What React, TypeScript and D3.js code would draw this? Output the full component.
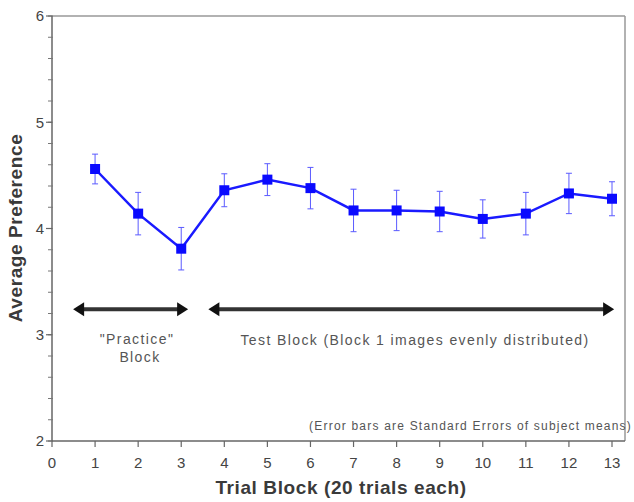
import React from "react";
import * as d3 from "d3";

const blocks = [1, 2, 3, 4, 5, 6, 7, 8, 9, 10, 11, 12, 13];
const meanPreference = [4.56, 4.14, 3.81, 4.36, 4.46, 4.38, 4.17, 4.17, 4.16, 4.09, 4.14, 4.33, 4.28];
const standardError = [0.14, 0.2, 0.2, 0.155, 0.15, 0.195, 0.2, 0.19, 0.19, 0.18, 0.2, 0.19, 0.16];
const xTicks = [0, 1, 2, 3, 4, 5, 6, 7, 8, 9, 10, 11, 12, 13];
const yTicks = [2, 3, 4, 5, 6];
const yMinorTicks = d3.range(2, 6.001, 0.2);
const practiceSpan = [0.49, 3.16];
const testSpan = [3.63, 13.05];
const arrowLevel = 3.24;

const W = 634;
const H = 502;
const left = 52;
const right = 625;
const top = 16;
const bottom = 441;

export default function App() {
  const x = d3.scaleLinear().domain([0, 13]).range([left, 612]);
  const y = d3.scaleLinear().domain([2, 6]).range([bottom, top]);
  const line = d3
    .line<number>()
    .x((_, i) => x(blocks[i]))
    .y((d) => y(d));

  const font = "'Liberation Sans', Arial, sans-serif";
  const textGray = "#555";

  const arrow = (span: number[], key: string) => {
    const x0 = x(span[0]);
    const x1 = x(span[1]);
    const yy = y(arrowLevel);
    const hl = 11;
    const hw = 7;
    return (
      <g key={key}>
        <line x1={x0 + hl - 1} x2={x1 - hl + 1} y1={yy} y2={yy} stroke="#333" strokeWidth={4} />
        <path d={`M${x0},${yy} L${x0 + hl},${yy - hw} L${x0 + hl},${yy + hw} Z`} fill="#111" />
        <path d={`M${x1},${yy} L${x1 - hl},${yy - hw} L${x1 - hl},${yy + hw} Z`} fill="#111" />
      </g>
    );
  };

  return (
    <svg
      width={W}
      height={H}
      style={{ position: "absolute", left: 0, top: 0, background: "#fff" }}
      fontFamily={font}
    >
      {/* frame */}
      <line x1={left} x2={right} y1={top} y2={top} stroke="#999" strokeWidth={1.5} />
      <line x1={right} x2={right} y1={top} y2={bottom} stroke="#999" strokeWidth={1.5} />
      {/* y axis */}
      <line x1={left} x2={left} y1={top} y2={bottom} stroke="#666" strokeWidth={1.5} />
      {yMinorTicks.map((v, i) => (
        <line key={"ym" + i} x1={left - 4} x2={left + 1} y1={y(v)} y2={y(v)} stroke="#777" strokeWidth={1} />
      ))}
      {yTicks.map((v) => (
        <g key={"y" + v}>
          <line x1={left - 6} x2={left} y1={y(v)} y2={y(v)} stroke="#666" strokeWidth={1.2} />
          <text x={left - 8} y={y(v)} dy="0.36em" textAnchor="end" fontSize={15} fill="#444">
            {v}
          </text>
        </g>
      ))}
      {/* x axis */}
      <line x1={left} x2={right} y1={bottom} y2={bottom} stroke="#666" strokeWidth={1.5} />
      {xTicks.map((v) => (
        <g key={"x" + v}>
          <line x1={x(v)} x2={x(v)} y1={bottom} y2={bottom + 6} stroke="#666" strokeWidth={1.2} />
          <text x={x(v)} y={bottom + 27} textAnchor="middle" fontSize={15} fill="#444">
            {v}
          </text>
        </g>
      ))}
      {/* axis titles */}
      <text x={341} y={494} textAnchor="middle" fontSize={19} fontWeight="bold" letterSpacing={0.6} fill="#3a3a3a">
        Trial Block (20 trials each)
      </text>
      <text
        transform={`translate(22,${228}) rotate(-90)`}
        textAnchor="middle"
        fontSize={19}
        fontWeight="bold"
        letterSpacing={0.6}
        fill="#3a3a3a"
      >
        Average Preference
      </text>
      {/* block annotations */}
      {arrow(practiceSpan, "practice")}
      {arrow(testSpan, "test")}
      <g fontSize={14} letterSpacing={1.4} fill={textGray} textAnchor="middle">
        <text x={137} y={344}>"Practice"</text>
        <text x={140} y={362}>Block</text>
        <text x={415} y={345}>Test Block (Block 1 images evenly distributed)</text>
      </g>
      <text x={632} y={430} textAnchor="end" fontSize={12} letterSpacing={1.2} fill={textGray}>
        (Error bars are Standard Errors of subject means)
      </text>
      {/* error bars */}
      {meanPreference.map((m, i) => {
        const cx = x(blocks[i]);
        const y0 = y(m - standardError[i]);
        const y1 = y(m + standardError[i]);
        return (
          <g key={"e" + i} stroke="#5a5aff" strokeWidth={1}>
            <line x1={cx} x2={cx} y1={y0} y2={y1} />
            <line x1={cx - 3} x2={cx + 3} y1={y0} y2={y0} />
            <line x1={cx - 3} x2={cx + 3} y1={y1} y2={y1} />
          </g>
        );
      })}
      <path d={line(meanPreference) || ""} fill="none" stroke="#1a1aff" strokeWidth={2.5} />
      {meanPreference.map((m, i) => (
        <rect key={"p" + i} x={x(blocks[i]) - 5} y={y(m) - 5} width={10} height={10} fill="#0a0aff" />
      ))}
    </svg>
  );
}
